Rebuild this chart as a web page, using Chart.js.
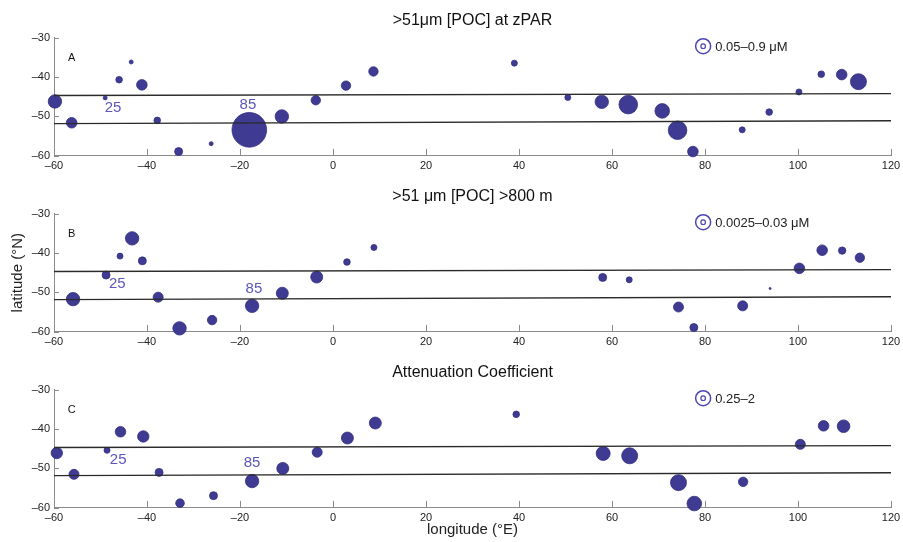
<!DOCTYPE html>
<html lang="en">
<head>
<meta charset="UTF-8">
<title>POC and attenuation along the section</title>
<script src="https://cdn.jsdelivr.net/npm/chart.js"></script>
<style>
    body { margin: 0; background: #fff; }
    .panel { position: absolute; left: 0; width: 903px; }
    #pa { top: 0; height: 176px; }
    #pb { top: 176px; height: 180px; }
    #pc { top: 352px; height: 190px; }
</style>
</head>
<body>

<div id="pa" class="panel"><canvas id="ca" width="903" height="176"></canvas></div>
<div id="pb" class="panel"><canvas id="cb" width="903" height="180"></canvas></div>
<div id="pc" class="panel"><canvas id="cc" width="903" height="190"></canvas></div>

<script>
    // axis ticks
    const xTicks = [-60, -40, -20, 0, 20, 40, 60, 80, 100, 120];
    const yTicks = [-60, -50, -40, -30];

    // fronts (two nearly flat lines)
    const frontLon = [-60, 120];
    const frontNorthLat = [-44.7, -44.2];
    const frontSouthLat = [-51.8, -51.1];

    // panel A: >51um POC at zPAR  (radius = bubble size)
    const lonA = [-59.8, -56.2, -49.0, -46.0, -43.4, -41.1, -37.8, -33.2, -26.2, -18.0, -11.0, -3.7, 2.8, 8.7,
                  39.0, 50.5, 57.8, 63.5, 70.8, 74.1, 77.4, 88.0, 93.8, 100.2, 105.0, 109.4, 113.0];
    const latA = [-46.2, -51.6, -45.3, -40.7, -36.2, -42.0, -51.0, -58.9, -56.9, -53.4, -50.0, -45.9, -42.2, -38.6,
                  -36.5, -45.2, -46.3, -47.0, -48.6, -53.5, -58.9, -53.4, -48.9, -43.8, -39.3, -39.4, -41.2];
    const radA = [6.7, 5.3, 2, 3.3, 2, 5.3, 3.3, 4, 2, 17.3, 6.7, 4.7, 4.7, 4.7,
                  3, 3, 6.7, 9.3, 7.3, 9.3, 5.3, 3, 3.3, 3, 3.3, 5.3, 8];

    // panel B: >51um POC >800 m
    const lonB = [-55.9, -48.8, -45.8, -43.2, -41.0, -37.6, -33.0, -26.0, -17.4, -10.9, -3.5, 3.0, 8.8,
                  58.0, 63.7, 74.3, 77.6, 88.1, 94.0, 100.3, 105.2, 109.5, 113.3];
    const latB = [-51.7, -45.6, -40.8, -36.3, -42.0, -51.2, -59.1, -57.0, -53.4, -50.2, -46.1, -42.3, -38.6,
                  -46.2, -46.8, -53.7, -58.9, -53.4, -49.0, -43.9, -39.3, -39.4, -41.2];
    const radB = [6.7, 4, 3, 6.7, 4, 5, 6.7, 4.7, 6.7, 6, 6, 3.3, 3,
                  4, 3, 5, 4, 5, 1, 5.3, 5.3, 3.7, 4.7];

    // panel C: attenuation coefficient
    const lonC = [-59.4, -55.7, -48.6, -45.7, -40.8, -37.4, -32.9, -25.7, -17.4, -10.8, -3.4, 3.1, 9.1,
                  39.4, 58.1, 63.8, 74.3, 77.7, 88.2, 100.5, 105.5, 109.8];
    const latC = [-46.1, -51.5, -45.4, -40.7, -41.9, -51.0, -58.8, -56.9, -53.2, -50.0, -45.9, -42.3, -38.5,
                  -36.3, -46.2, -46.8, -53.6, -58.9, -53.4, -43.9, -39.2, -39.3];
    const radC = [5.7, 5, 3, 5.3, 5.7, 4, 4.3, 4, 6.7, 6, 5, 6, 6,
                  3.3, 7, 8, 8, 7.3, 4.7, 5, 5.3, 6.3];

    // station labels (per panel: A, B, C) and legend text
    const stationNames = ['25', '85'];
    const station25Lon = [-47.3, -46.4, -46.2];
    const station25Lat = [-47.8, -47.9, -47.9];
    const station85Lon = [-18.3, -17.0, -17.4];
    const station85Lat = [-47.1, -49.1, -48.7];
    const titles = ['>51\u03bcm [POC] at zPAR', '>51 \u03bcm [POC] >800 m', 'Attenuation Coefficient'];
    const letters = ['A', 'B', 'C'];
    const ranges = ['0.05\u20130.9 \u03bcM', '0.0025\u20130.03 \u03bcM', '0.25\u20132'];
    const legendLon = 79.6, legendLat = -32.2;
    const letterLon = -56.2, letterLat = -35.1;

    const FONT = '"Liberation Sans", Arial, sans-serif';
    const dash = v => String(v).replace('-', '\u2013');

    const annotate = {
        id: 'annotate',
        afterDatasetsDraw(chart, args, opts) {
            const { ctx, chartArea: a } = chart;
            const x = chart.scales.x, y = chart.scales.y;
            const i = opts.index;
            ctx.save();

            // inward ticks
            ctx.strokeStyle = '#8a8a8a';
            ctx.lineWidth = 1;
            xTicks.forEach(v => {
                const px = Math.round(x.getPixelForValue(v)) + 0.5;
                ctx.beginPath(); ctx.moveTo(px, a.bottom); ctx.lineTo(px, a.bottom - 7); ctx.stroke();
            });
            yTicks.forEach(v => {
                const py = Math.round(y.getPixelForValue(v)) + 0.5;
                ctx.beginPath(); ctx.moveTo(a.left, py); ctx.lineTo(a.left + 5, py); ctx.stroke();
            });

            ctx.textAlign = 'center';
            ctx.textBaseline = 'middle';

            // title
            ctx.fillStyle = '#111';
            ctx.font = '16px ' + FONT;
            ctx.fillText(titles[i], (a.left + a.right) / 2, a.top - 17);

            // panel letter
            ctx.font = '11px ' + FONT;
            ctx.fillText(letters[i], x.getPixelForValue(letterLon), y.getPixelForValue(letterLat));

            // station numbers
            ctx.fillStyle = '#5b57b8';
            ctx.font = '15px ' + FONT;
            ctx.fillText(stationNames[0], x.getPixelForValue(station25Lon[i]), y.getPixelForValue(station25Lat[i]));
            ctx.fillText(stationNames[1], x.getPixelForValue(station85Lon[i]), y.getPixelForValue(station85Lat[i]));

            // size legend
            const lx = x.getPixelForValue(legendLon), ly = y.getPixelForValue(legendLat);
            ctx.strokeStyle = '#4b47b0';
            ctx.lineWidth = 1.5;
            ctx.beginPath(); ctx.arc(lx, ly, 7.5, 0, Math.PI * 2); ctx.stroke();
            ctx.lineWidth = 1.2;
            ctx.beginPath(); ctx.arc(lx, ly, 2.3, 0, Math.PI * 2); ctx.stroke();
            ctx.fillStyle = '#222';
            ctx.font = '13px ' + FONT;
            ctx.textAlign = 'left';
            ctx.fillText(ranges[i], lx + 12, ly + 1);

            // axis titles
            ctx.textAlign = 'center';
            ctx.font = '15px ' + FONT;
            if (i === 1) {
                ctx.save();
                ctx.translate(18, (a.top + a.bottom) / 2);
                ctx.rotate(-Math.PI / 2);
                ctx.fillText('latitude (\u00b0N)', 0, 0);
                ctx.restore();
            }
            if (i === 2) {
                ctx.fillText('longitude (\u00b0E)', (a.left + a.right) / 2, a.bottom + 22);
            }
            ctx.restore();
        }
    };

    function makePanel(canvasId, index, lon, lat, rad) {
        const h = document.getElementById(canvasId).height;
        const plotTop = 37.5, plotHeight = 118.4;
        return new Chart(document.getElementById(canvasId), {
            type: 'bubble',
            data: {
                datasets: [
                    {
                        type: 'line',
                        data: frontLon.map((v, k) => ({ x: v, y: frontNorthLat[k] })),
                        borderColor: '#2b2b2b', borderWidth: 1.3, pointRadius: 0
                    },
                    {
                        type: 'line',
                        data: frontLon.map((v, k) => ({ x: v, y: frontSouthLat[k] })),
                        borderColor: '#2b2b2b', borderWidth: 1.3, pointRadius: 0
                    },
                    {
                        data: lon.map((v, k) => ({ x: v, y: lat[k], r: rad[k] })),
                        backgroundColor: '#3f3b93',
                        borderColor: '#322e80',
                        borderWidth: 0.8,
                        clip: false
                    }
                ]
            },
            options: {
                responsive: false,
                animation: false,
                events: [],
                layout: { autoPadding: false, padding: { top: plotTop, right: 12, left: 0, bottom: 0 } },
                plugins: { legend: { display: false }, tooltip: { enabled: false }, annotate: { index } },
                scales: {
                    x: {
                        type: 'linear', min: -60, max: 120,
                        afterBuildTicks: s => { s.ticks = xTicks.map(v => ({ value: v })); },
                        afterFit: s => {
                            s.height = h - plotTop - plotHeight;
                            s.paddingLeft = 0; s.paddingRight = 0;
                        },
                        grid: { display: true, drawOnChartArea: false, drawTicks: false },
                        border: { display: true, color: '#8a8a8a', width: 1 },
                        ticks: { padding: 3, color: '#222', font: { family: FONT, size: 11 }, callback: dash, maxRotation: 0, minRotation: 0 }
                    },
                    y: {
                        type: 'linear', min: -60, max: -30,
                        afterBuildTicks: s => { s.ticks = yTicks.map(v => ({ value: v })); },
                        afterFit: s => {
                            s.width = 54;
                            s.paddingTop = 0; s.paddingBottom = 0;
                        },
                        grid: { display: true, drawOnChartArea: false, drawTicks: false },
                        border: { display: true, color: '#8a8a8a', width: 1 },
                        ticks: { padding: 4, color: '#222', font: { family: FONT, size: 11 }, callback: dash }
                    }
                }
            },
            plugins: [annotate]
        });
    }

    makePanel('ca', 0, lonA, latA, radA);
    makePanel('cb', 1, lonB, latB, radB);
    makePanel('cc', 2, lonC, latC, radC);
</script>

</body>
</html>
